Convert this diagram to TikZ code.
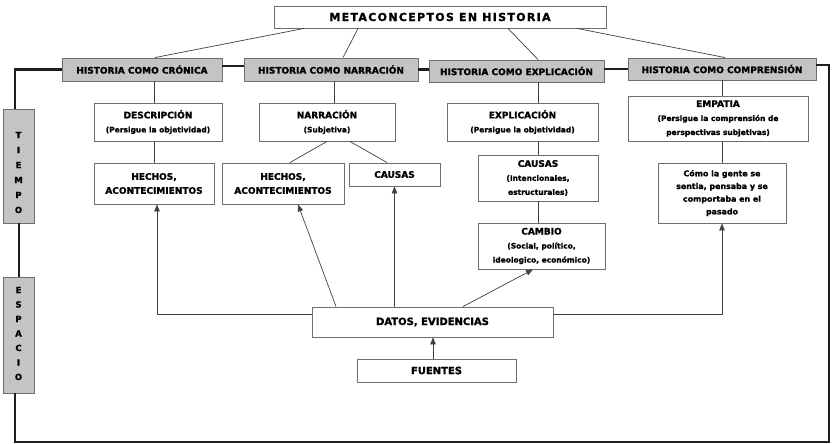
\documentclass[tikz,border=0pt]{standalone}
\usepackage{fontspec}
\setmainfont{DejaVu Sans}[BoldFeatures={FakeBold=1.4}]
\usetikzlibrary{arrows.meta,calc}
\definecolor{hgray}{HTML}{C4C4C4}
\definecolor{bgray}{HTML}{6E6E6E}
\definecolor{lgray}{HTML}{404040}
\definecolor{tk}{HTML}{1E1E1E}
\newcommand\mysub{\fontsize{7.5}{14}\selectfont}
\newcommand\mysubb{\fontsize{7.5}{13}\selectfont}
\newcommand\mysubc{\fontsize{7.5}{12.5}\selectfont}
\newcommand\mysubd{\fontsize{7.9}{12.7}\selectfont}
\begin{document}
\begin{tikzpicture}[x=1pt,y=-1pt,
 box/.style={draw=bgray,line width=0.9pt,fill=white,inner sep=0pt,align=center,font=\bfseries\fontsize{9}{14}\selectfont},
 hbox/.style={box,fill=hgray},
 thin/.style={draw=lgray,line width=0.7pt},
 arr/.style={thin,-{Triangle[length=7pt,width=5.5pt]}},
 heavy/.style={draw=tk,line width=2.8pt},
 vtext/.style={inner sep=0pt,align=center,font=\bfseries\fontsize{8.5}{15}\selectfont},
]
\useasboundingbox (0,0) rectangle (832,444);

\node[box,minimum width=332,minimum height=22,font=\bfseries\fontsize{11}{13}\selectfont\addfontfeatures{LetterSpace=12}] (title) at (440,17) {METACONCEPTOS EN HISTORIA};

\node[hbox,minimum width=160,minimum height=23] (h1) at (142,69.5) {HISTORIA COMO CRÓNICA};
\node[hbox,minimum width=174,minimum height=23] (h2) at (331,69.5) {HISTORIA COMO NARRACIÓN};
\node[hbox,minimum width=175,minimum height=22] (h3) at (516.5,71) {HISTORIA COMO EXPLICACIÓN};
\node[hbox,minimum width=188,minimum height=22] (h4) at (722,69) {HISTORIA COMO COMPRENSIÓN};

\node[box,minimum width=128,minimum height=38] (desc) at (158,122) {DESCRIPCIÓN\\\mysub(Persigue la objetividad)};
\node[box,minimum width=120,minimum height=41] (hech1) at (154,183.5) {HECHOS,\\ACONTECIMIENTOS};
\node[box,minimum width=136,minimum height=38] (narr) at (327,122) {NARRACIÓN\\\mysub(Subjetiva)};
\node[box,minimum width=122,minimum height=41] (hech2) at (283,183.5) {HECHOS,\\ACONTECIMIENTOS};
\node[box,minimum width=91,minimum height=23] (caus1) at (394.5,174.5) {CAUSAS};
\node[box,minimum width=151,minimum height=38] (expl) at (522.5,122) {EXPLICACIÓN\\\mysub(Persigue la objetividad)};
\node[box,minimum width=120,minimum height=46] (caus2) at (538,178) {CAUSAS\\\mysubb(Intencionales,\\\mysubb estructurales)};
\node[box,minimum width=127,minimum height=46] (cambio) at (541.5,246) {CAMBIO\\\mysubc(Social, político,\\\mysubc ideologico, económico)};
\node[box,minimum width=180,minimum height=45] (empatia) at (718,118.5) {EMPATIA\\\mysubc(Persigue la comprensión de\\\mysubc perspectivas subjetivas)};
\node[box,minimum width=128,minimum height=60,font=\bfseries\mysubd] (como) at (722,193) {Cómo la gente se\\sentia, pensaba y se\\comportaba en el\\pasado};
\node[box,minimum width=241,minimum height=30,font=\bfseries\fontsize{10}{12}\selectfont] (datos) at (432.5,322) {DATOS, EVIDENCIAS};
\node[box,minimum width=159,minimum height=23,font=\bfseries\fontsize{10}{12}\selectfont] (fuentes) at (436.5,370.5) {FUENTES};

\node[hbox,minimum width=31,minimum height=114] (tiempo) at (18.5,166) {};
\node[vtext] (tiempot) at (18.5,172.5) {T\\I\\E\\M\\P\\O};
\node[hbox,minimum width=31,minimum height=116] (espacio) at (18.5,335) {};
\node[vtext,font=\bfseries\fontsize{8.5}{14.5}\selectfont] (espaciot) at (18.5,333.5) {E\\S\\P\\A\\C\\I\\O};

\coordinate (br) at (829,442);

% heavy frame
\draw[heavy] (h1.west) -| ([xshift=-3.5pt]tiempo.north);
\draw[heavy] ([xshift=0.5pt]tiempo.south) -- ([xshift=0.5pt]espacio.north);
\draw[heavy] ([xshift=-3.5pt]espacio.south) |- (br) |- ([yshift=4pt]h4.east);
\draw[heavy] ([yshift=3.5pt]h1.east) -- ([yshift=3.5pt]h1.east -| h2.west);
\draw[heavy] (h2.east) -- (h2.east -| h3.west);
\draw[heavy] (h4.west -| h3.east) -- (h4.west);

% title to headers
\draw[thin] ([xshift=-136pt]title.south) -- ([xshift=13pt]h1.north);
\draw[thin] ([xshift=-82pt]title.south) -- ([xshift=12pt]h2.north);
\draw[thin] ([xshift=68pt]title.south) -- ([xshift=21.5pt]h3.north);
\draw[thin] ([xshift=137pt]title.south) -- ([xshift=3pt]h4.north);

% columns
\draw[thin] (h1.south -| hech1.north) -- (desc.north -| hech1.north);
\draw[thin] (desc.south -| hech1.north) -- (hech1.north);
\draw[thin] ([xshift=3pt]h2.south) -- ([xshift=3pt]h2.south |- narr.north);
\draw[thin] (narr.south) -- ([xshift=7pt]hech2.north);
\draw[thin] ([xshift=23pt]narr.south) -- ([xshift=-7.5pt]caus1.north);
\draw[thin] (h3.south -| caus2.north) -- (expl.north -| caus2.north);
\draw[thin] (expl.south -| caus2.north) -- (caus2.north);
\draw[thin] (caus2.south) -- (caus2.south |- cambio.north);
\draw[thin] (h4.south) -- (h4.south |- empatia.north);
\draw[thin] (empatia.south -| como.north) -- (como.north);

% arrows from data
\draw[arr] ([yshift=8pt]datos.west) -| ([xshift=3pt]hech1.south);
\draw[arr] ([xshift=-96.5pt]datos.north) -- ([xshift=15pt]hech2.south);
\draw[arr] (datos.north -| caus1.south) -- (caus1.south);
\draw[arr] ([xshift=30.5pt]datos.north) -- ([xshift=-8.5pt]cambio.south);
\draw[arr] ([yshift=8pt]datos.east) -| (como.south);
\draw[arr] ([xshift=-3.5pt]fuentes.north) -- ([xshift=-3.5pt]fuentes.north |- datos.south);
\end{tikzpicture}
\end{document}
